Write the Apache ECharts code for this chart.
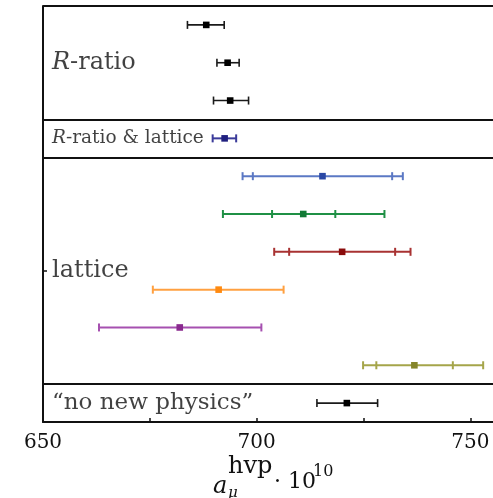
<!DOCTYPE html>
<html><head><meta charset="utf-8">
<script src="https://cdn.jsdelivr.net/npm/echarts@6/dist/echarts.min.js"></script>
<style>html,body{margin:0;padding:0;background:#fff}#c{width:493px;height:498px}</style>
</head><body><div id="c"></div>
<script>
// rows (0 = top), one per estimate
const rowPos   = [0.5, 1.5, 2.5, 3.5, 4.5, 5.5, 6.5, 7.5, 8.5, 9.5, 10.5];
const centers  = [688.2, 693.2, 693.8, 692.5, 715.4, 710.9, 720.0, 691.1, 682.0, 736.9, 721.1];
const outerLo  = [683.8, 690.7, 689.9, 689.7, 696.7, 692.1, 704.1, 675.7, 663.1, 724.9, 714.1];
const outerHi  = [692.4, 695.9, 698.1, 695.2, 734.2, 729.9, 736.0, 706.3, 701.1, 753.0, 728.3];
const innerLo  = [null, null, null, null, 699.1, 703.6, 707.6, null, null, 728.0, null];
const innerHi  = [null, null, null, null, 731.7, 718.4, 732.4, null, null, 745.9, null];
// section labels
const sectionNames = ['R-ratio', 'R-ratio & lattice', 'lattice', '\u201cno new physics\u201d'];
const sectionRows  = [1.5, 3.5, 7, 10.5];
const sectionBounds = [0, 3, 4, 10];
const xTicks = [650, 700, 750];

// styles
const lineColors   = ['#1a1a1a','#1a1a1a','#1a1a1a','#3b3b9a','#5b78c4','#1f9045','#a83232','#ffa040','#a650b0','#a5a54a','#1a1a1a'];
const markerColors = ['#000','#000','#000','#20207f','#2a48a5','#127a35','#8a0b0b','#ff8a10','#8a2a8f','#85852a','#000'];

const chart = echarts.init(document.getElementById('c'));
const SERIF = 'DejaVu Serif';
const ink = '#111';

chart.setOption({
  animation: false,
  grid: { left: 43, right: 0, top: 6, bottom: 76, show: false, containLabel: false, outerBoundsMode: 'none' },
  xAxis: {
    type: 'value', min: 650, max: 755.3, interval: 25,
    axisLine: { show: true, onZero: false, lineStyle: { color: ink, width: 2 } },
    axisTick: { show: true, inside: true, length: 4, lineStyle: { color: ink, width: 1.5 } },
    splitLine: { show: false },
    axisLabel: {
      margin: 11, color: ink, fontFamily: SERIF, fontSize: 20, showMaxLabel: false,
      formatter: v => xTicks.indexOf(v) >= 0 ? String(v) : ''
    }
  },
  yAxis: {
    type: 'value', min: 0, max: 11, inverse: true,
    axisLine: { show: true, onZero: false, lineStyle: { color: ink, width: 2 } },
    axisTick: { show: true, inside: true, length: 4, customValues: [7], lineStyle: { color: ink, width: 1.5 } },
    axisLabel: { show: false },
    splitLine: { show: false }
  },
  series: [
    {
      type: 'line', data: [], silent: true,
      markLine: {
        silent: true, symbol: 'none', label: { show: false },
        lineStyle: { color: ink, width: 2, type: 'solid' },
        data: sectionBounds.map(b => ({ yAxis: b }))
      }
    },
    {
      type: 'custom',
      encode: { x: [1, 2, 3], y: 0 },
      data: rowPos.map((r, i) => [r, centers[i], outerLo[i], outerHi[i]]),
      renderItem: function (params, api) {
        const i = params.dataIndex;
        const row = api.value(0);
        const y = api.coord([650, row])[1];
        const X = v => api.coord([v, row])[0];
        const lc = lineColors[i], mc = markerColors[i];
        const lw = (markerColors[i] === '#000') ? 1.6 : 2, ch = 4;
        const kids = [];
        const xl = X(api.value(2)), xr = X(api.value(3));
        kids.push({ type: 'line', shape: { x1: xl, y1: y, x2: xr, y2: y }, style: { stroke: lc, lineWidth: lw } });
        const caps = [xl, xr];
        if (innerLo[i] != null) { caps.push(X(innerLo[i]), X(innerHi[i])); }
        caps.forEach(x => kids.push({ type: 'line', shape: { x1: x, y1: y - ch, x2: x, y2: y + ch }, style: { stroke: lc, lineWidth: lw } }));
        const xc = X(api.value(1));
        kids.push({ type: 'rect', shape: { x: xc - 3.3, y: y - 3.3, width: 6.6, height: 6.6 }, style: { fill: mc } });
        return { type: 'group', children: kids };
      },
      z: 5
    },
    {
      type: 'scatter', symbolSize: 0, silent: true, z: 6,
      data: sectionRows.map((r, i) => ({ value: [650, r], name: sectionNames[i] })),
      label: {
        show: true, position: 'right', distance: 9, color: ink,
        formatter: function (p) {
          const n = p.name;
          if (p.dataIndex === 0) return '{i|R}{n|-ratio}';
          if (p.dataIndex === 1) return '{si|R}{s|-ratio & lattice}';
          if (p.dataIndex === 2) return '{n|' + n + '}';
          return '{q|' + n + '}';
        },
        rich: {
          i: { fontFamily: SERIF, fontStyle: 'italic', fontSize: 24, color: ink },
          n: { fontFamily: SERIF, fontSize: 24, color: ink },
          si: { fontFamily: SERIF, fontStyle: 'italic', fontSize: 18.5, color: ink },
          s: { fontFamily: SERIF, fontSize: 18.5, color: ink },
          q: { fontFamily: SERIF, fontSize: 23, color: ink }
        }
      }
    }
  ],
  graphic: [
    { type: 'text', left: 213, top: 475, style: { text: 'a', font: 'italic 24px "DejaVu Serif"', fill: ink } },
    { type: 'text', left: 228, top: 486, style: { text: '\u03bc', font: 'italic 15px "DejaVu Serif"', fill: ink } },
    { type: 'text', left: 228, top: 455, style: { text: 'hvp', font: '24px "DejaVu Serif"', fill: ink } },
    { type: 'text', left: 274, top: 471, style: { text: '\u00b7 10', font: '22px "DejaVu Serif"', fill: ink } },
    { type: 'text', left: 313, top: 464, style: { text: '10', font: '16px "DejaVu Serif"', fill: ink } }
  ]
});
</script>
</body></html>
